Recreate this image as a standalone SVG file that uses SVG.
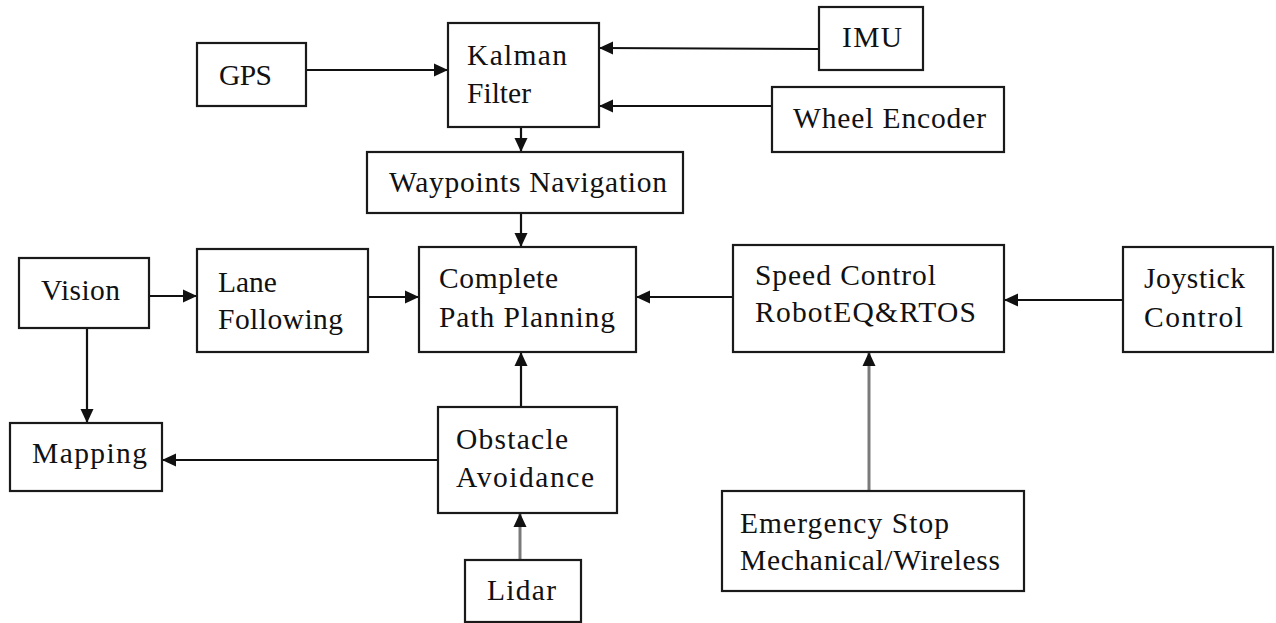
<svg xmlns="http://www.w3.org/2000/svg" width="1276" height="623" viewBox="0 0 1276 623">
<style>
.box{fill:#fff;stroke:#1a1a1a;stroke-width:2.2}
.t{font-family:"Liberation Serif","Times New Roman",serif;font-size:29.5px;fill:#111}
.c{fill:none;stroke:#111;stroke-width:2.2}
.g{fill:none;stroke:#7a7a7a;stroke-width:3}
</style>
<defs>
<marker id="ah" markerUnits="userSpaceOnUse" markerWidth="14" markerHeight="14" viewBox="0 0 14 14" refX="13" refY="7" orient="auto">
<path d="M0,0.5 L14,7 L0,13.5 Z" fill="#111"/>
</marker>
</defs>
<rect width="1276" height="623" fill="#fff"/>
<g id="connectors">
<line class="c" x1="306" y1="70" x2="447" y2="70" marker-end="url(#ah)"/>
<line class="c" x1="819" y1="49" x2="600" y2="48" marker-end="url(#ah)"/>
<line class="c" x1="772" y1="106" x2="600" y2="106" marker-end="url(#ah)"/>
<line class="c" x1="521" y1="104" x2="521" y2="151" marker-end="url(#ah)"/>
<line class="c" x1="521" y1="213" x2="521" y2="246" marker-end="url(#ah)"/>
<line class="c" x1="149" y1="296" x2="196" y2="296" marker-end="url(#ah)"/>
<line class="c" x1="368" y1="297" x2="418" y2="297" marker-end="url(#ah)"/>
<line class="c" x1="733" y1="297" x2="637" y2="297" marker-end="url(#ah)"/>
<line class="c" x1="1123" y1="300" x2="1005" y2="300" marker-end="url(#ah)"/>
<line class="c" x1="87" y1="328" x2="87" y2="422" marker-end="url(#ah)"/>
<line class="c" x1="438" y1="460" x2="163" y2="460" marker-end="url(#ah)"/>
<line class="c" x1="521" y1="407" x2="521" y2="353" marker-end="url(#ah)"/>
<line class="g" x1="520" y1="560" x2="520" y2="514" marker-end="url(#ah)"/>
<line class="g" x1="869" y1="491" x2="869" y2="353" marker-end="url(#ah)"/>
</g>
<g id="gps"><rect class="box" x="197" y="43" width="109" height="63"/><text class="t" x="219" y="85" textLength="53">GPS</text></g>
<g id="kalman"><rect class="box" x="448" y="23" width="151" height="104"/><text class="t" x="467" y="65" textLength="100">Kalman</text><text class="t" x="467" y="103" textLength="64">Filter</text></g>
<g id="imu"><rect class="box" x="819" y="7" width="104" height="63"/><text class="t" x="842" y="47" textLength="60">IMU</text></g>
<g id="wheel"><rect class="box" x="772" y="87" width="232" height="65"/><text class="t" x="793" y="128" textLength="193">Wheel Encoder</text></g>
<g id="waypoints"><rect class="box" x="367" y="152" width="316" height="61"/><text class="t" x="389" y="192" textLength="278">Waypoints Navigation</text></g>
<g id="vision"><rect class="box" x="19" y="258" width="130" height="70"/><text class="t" x="41" y="300" textLength="79">Vision</text></g>
<g id="lane"><rect class="box" x="197" y="249" width="171" height="103"/><text class="t" x="218" y="292">Lane</text><text class="t" x="218" y="329" textLength="125">Following</text></g>
<g id="complete"><rect class="box" x="419" y="247" width="217" height="105"/><text class="t" x="439" y="288" textLength="119">Complete</text><text class="t" x="439" y="327" textLength="176">Path Planning</text></g>
<g id="speed"><rect class="box" x="733" y="245" width="271" height="107"/><text class="t" x="755" y="285" textLength="181">Speed Control</text><text class="t" x="755" y="322" textLength="221">RobotEQ&amp;RTOS</text></g>
<g id="joystick"><rect class="box" x="1123" y="247" width="150" height="105"/><text class="t" x="1144" y="288" textLength="101">Joystick</text><text class="t" x="1144" y="327" textLength="99">Control</text></g>
<g id="mapping"><rect class="box" x="10" y="423" width="152" height="68"/><text class="t" x="32" y="463" textLength="115">Mapping</text></g>
<g id="obstacle"><rect class="box" x="438" y="407" width="179" height="106"/><text class="t" x="456" y="449" textLength="112">Obstacle</text><text class="t" x="456" y="487" textLength="138">Avoidance</text></g>
<g id="lidar"><rect class="box" x="465" y="560" width="116" height="62"/><text class="t" x="487" y="600" textLength="69">Lidar</text></g>
<g id="emergency"><rect class="box" x="722" y="491" width="302" height="100"/><text class="t" x="740" y="533" textLength="209">Emergency Stop</text><text class="t" x="740" y="570" textLength="260">Mechanical/Wireless</text></g>
</svg>
